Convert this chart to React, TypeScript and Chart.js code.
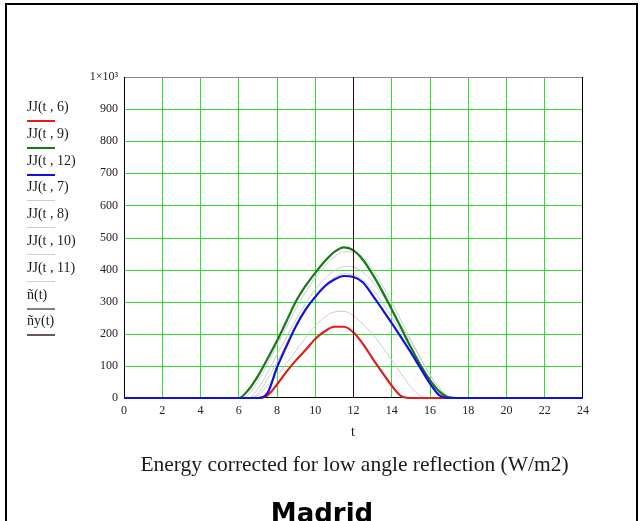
import React, { useEffect, useRef } from "react";
import { Chart, registerables } from "chart.js";

Chart.register(...registerables);

// ---------- data ----------
const HOURS = [0, 6, 6.5, 7, 7.5, 8, 8.5, 9, 9.5, 10, 10.5, 11, 11.5, 12, 12.5, 13, 13.5, 14, 14.5, 15, 15.5, 16, 16.5, 17, 17.5, 24];

const JJ6 = [0, 0, 0, 0, 8, 42, 82, 118, 150, 184, 208, 222, 222, 204, 168, 123, 80, 38, 6, 0, 0, 0, 0, 0, 0, 0];
const JJ9 = [0, 0, 25, 68, 122, 178, 240, 302, 350, 390, 426, 455, 469, 460, 430, 385, 333, 276, 217, 158, 103, 56, 20, 2, 0, 0];
const JJ12 = [0, 0, 0, 0, 15, 95, 162, 225, 276, 315, 348, 369, 380, 377, 360, 320, 277, 233, 188, 142, 93, 45, 8, 0, 0, 0];
const JJ7 = [0, 0, 0, 8, 38, 70, 108, 148, 188, 225, 252, 268, 270, 256, 230, 198, 160, 118, 75, 34, 6, 0, 0, 0, 0, 0];
const JJ8 = [0, 0, 10, 52, 106, 165, 222, 280, 330, 375, 412, 440, 455, 455, 438, 400, 352, 298, 240, 182, 125, 72, 30, 5, 0, 0];
const JJ10 = [0, 0, 0, 28, 78, 135, 190, 245, 295, 338, 372, 397, 410, 408, 392, 362, 322, 276, 226, 175, 123, 72, 30, 3, 0, 0];
const JJ11 = [0, 0, 0, 14, 58, 112, 168, 222, 272, 315, 350, 375, 387, 385, 368, 338, 298, 252, 204, 155, 105, 58, 20, 0, 0, 0];

const MARKER_T = 12; // vertical marker line
const X_MIN = 0;
const X_MAX = 24;
const X_STEP = 2;
const Y_MIN = 0;
const Y_MAX = 1000;
const Y_STEP = 100;

const LEGEND_LABELS = ["JJ(t , 6)", "JJ(t , 9)", "JJ(t , 12)", "JJ(t , 7)", "JJ(t , 8)", "JJ(t , 10)", "JJ(t , 11)", "ñ(t)", "ñy(t)"];

// ---------- styles ----------
const RED = "#e01c1c";
const GREEN = "#167a16";
const BLUE = "#1010e0";
const LIGHT = "#cdcdcd";
const MARKER = "#3a0505";
const GRID = "rgb(50,220,50)";

const LEGEND_STYLE = [
  { color: RED, h: 2 },
  { color: GREEN, h: 2 },
  { color: BLUE, h: 2 },
  { color: LIGHT, h: 1 },
  { color: LIGHT, h: 1 },
  { color: LIGHT, h: 1 },
  { color: LIGHT, h: 1 },
  { color: "#808080", h: 2 },
  { color: "#6e5555", h: 2 },
];

const toPoints = (vals: number[]) => HOURS.map((t, i) => ({ x: t, y: vals[i] }));

export default function App() {
  const ref = useRef<HTMLCanvasElement>(null);

  useEffect(() => {
    const framePlugin = {
      id: "frame",
      beforeDatasetsDraw(chart: any) {
        const { ctx, chartArea, scales } = chart;
        const { left, top, right, bottom } = chartArea;
        ctx.save();
        ctx.lineWidth = 1;
        ctx.strokeStyle = GRID;
        ctx.beginPath();
        scales.x.ticks.forEach((tk: any) => {
          if (tk.value <= X_MIN || tk.value >= X_MAX) return;
          const px = Math.floor(scales.x.getPixelForValue(tk.value)) + 0.5;
          ctx.moveTo(px, top);
          ctx.lineTo(px, bottom);
        });
        ctx.stroke();
        ctx.beginPath();
        scales.y.ticks.forEach((tk: any) => {
          if (tk.value <= Y_MIN || tk.value >= Y_MAX) return;
          const py = Math.round(scales.y.getPixelForValue(tk.value)) + 0.5;
          ctx.moveTo(left, py);
          ctx.lineTo(right, py);
        });
        ctx.stroke();
        ctx.strokeStyle = "#888888";
        ctx.beginPath();
        ctx.moveTo(left, top + 0.5);
        ctx.lineTo(right, top + 0.5);
        ctx.stroke();
        ctx.strokeStyle = "#000000";
        ctx.beginPath();
        ctx.moveTo(left + 0.5, top);
        ctx.lineTo(left + 0.5, bottom);
        ctx.moveTo(right - 0.5, top);
        ctx.lineTo(right - 0.5, bottom);
        ctx.moveTo(left, bottom - 0.5);
        ctx.lineTo(right, bottom - 0.5);
        ctx.stroke();
        ctx.restore();
      },
    };

    const line = (label: string, vals: number[], color: string, width: number, order: number) => ({
      label,
      data: toPoints(vals),
      borderColor: color,
      backgroundColor: color,
      borderWidth: width,
      pointRadius: 0,
      fill: false,
      order,
      clip: 3,
      cubicInterpolationMode: "monotone" as const,
    });

    const noGrid = { display: false, drawTicks: false, tickLength: 0 };

    const chart = new Chart(ref.current!, {
      type: "line",
      data: {
        datasets: [
          {
            label: "marker",
            data: [
              { x: MARKER_T, y: Y_MIN },
              { x: MARKER_T, y: Y_MAX },
            ],
            borderColor: MARKER,
            borderWidth: 1,
            pointRadius: 0,
            fill: false,
            order: 0,
          },
          line("JJ(t,12)", JJ12, BLUE, 2.2, 1),
          line("JJ(t,6)", JJ6, RED, 2.2, 2),
          line("JJ(t,9)", JJ9, GREEN, 2.2, 3),
          line("JJ(t,7)", JJ7, LIGHT, 1, 4),
          line("JJ(t,8)", JJ8, LIGHT, 1, 5),
          line("JJ(t,10)", JJ10, LIGHT, 1, 6),
          line("JJ(t,11)", JJ11, LIGHT, 1, 7),
        ],
      },
      options: {
        animation: false,
        responsive: false,
        devicePixelRatio: 1,
        layout: { padding: { left: 0, top: 77, right: 57, bottom: 0 } },
        plugins: { legend: { display: false }, tooltip: { enabled: false }, title: { display: false } },
        scales: {
          x: {
            type: "linear",
            min: X_MIN,
            max: X_MAX,
            afterFit: (s: any) => {
              s.height = 123;
            },
            border: { display: false },
            grid: noGrid,
            ticks: {
              stepSize: X_STEP,
              padding: 6,
              color: "#222222",
              font: { family: "'Liberation Serif', serif", size: 12 },
              maxRotation: 0,
            },
          },
          y: {
            type: "linear",
            min: Y_MIN,
            max: Y_MAX,
            afterFit: (s: any) => {
              s.width = 124;
            },
            border: { display: false },
            grid: noGrid,
            ticks: {
              stepSize: Y_STEP,
              padding: 6,
              color: "#222222",
              font: { family: "'Liberation Serif', serif", size: 12 },
              callback: (v: any) => (v === 1000 ? "1×10³" : String(v)),
            },
          },
        },
      },
      plugins: [framePlugin],
    });
    return () => chart.destroy();
  }, []);

  return (
    <div style={{ position: "absolute", left: 0, top: 0, width: 640, height: 521, overflow: "hidden", background: "#fff" }}>
      <div
        style={{
          position: "absolute",
          left: 5,
          top: 3,
          width: 633,
          height: 560,
          border: "2px solid #000",
          boxSizing: "border-box",
        }}
      />
      <canvas ref={ref} width={640} height={521} style={{ position: "absolute", left: 0, top: 0, width: 640, height: 521 }} />
      {LEGEND_LABELS.map((lab, i) => (
        <React.Fragment key={lab}>
          <div
            style={{
              position: "absolute",
              left: 27,
              top: 99 + i * 26.8,
              font: "14px/16px 'Liberation Serif', serif",
              color: "#1a1a1a",
              whiteSpace: "nowrap",
            }}
          >
            {lab}
          </div>
          <div
            style={{
              position: "absolute",
              left: 27,
              top: 120 + i * 26.8,
              width: 28,
              height: LEGEND_STYLE[i].h,
              background: LEGEND_STYLE[i].color,
            }}
          />
        </React.Fragment>
      ))}
      <div
        style={{
          position: "absolute",
          left: 353,
          top: 424,
          transform: "translateX(-50%)",
          font: "14px/16px 'Liberation Serif', serif",
          color: "#1a1a1a",
        }}
      >
        t
      </div>
      <div
        style={{
          position: "absolute",
          left: 354.5,
          top: 453.7,
          transform: "translateX(-50%)",
          font: "21.5px/21.5px 'Liberation Serif', serif",
          color: "#1a1a1a",
          whiteSpace: "nowrap",
        }}
      >
        Energy corrected for low angle reflection (W/m2)
      </div>
      <div
        style={{
          position: "absolute",
          left: 322,
          top: 500,
          transform: "translateX(-50%)",
          font: "bold 26px/26px 'DejaVu Sans', sans-serif",
          color: "#000",
          whiteSpace: "nowrap",
        }}
      >
        Madrid
      </div>
    </div>
  );
}
